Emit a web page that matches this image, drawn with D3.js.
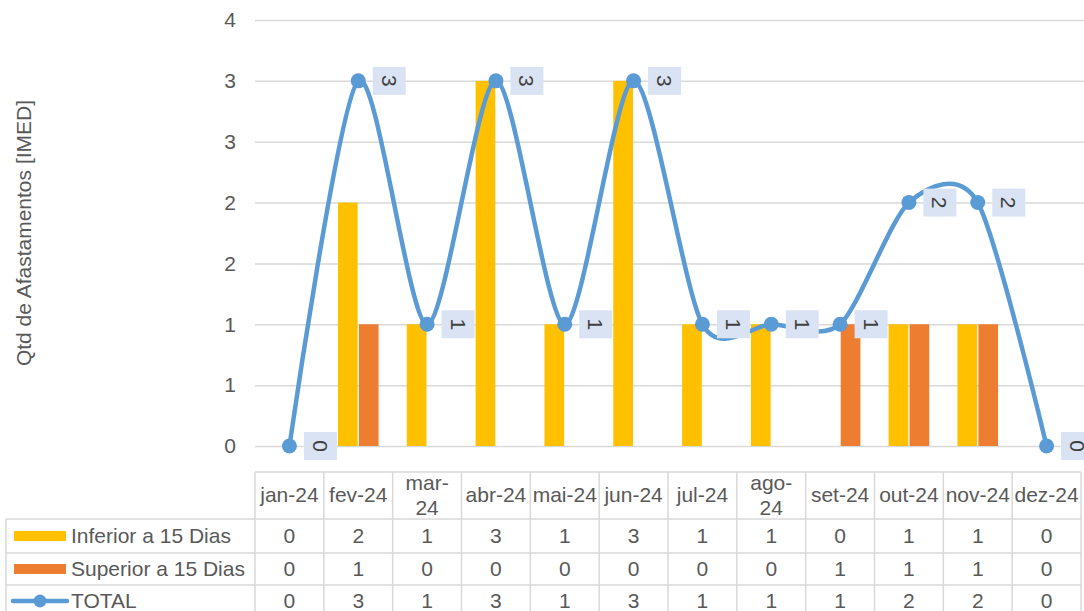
<!DOCTYPE html>
<html>
<head>
<meta charset="utf-8">
<script src="https://cdn.jsdelivr.net/npm/d3@7"></script>
<style>
  body { margin: 0; background: #fff; }
  text { font-family: "Liberation Sans", Arial, sans-serif; }
</style>
</head>
<body>
<div id="chart-area"></div>
<script>
// DATA
const categories = ["jan-24", "fev-24", "mar-24", "abr-24", "mai-24", "jun-24",
                    "jul-24", "ago-24", "set-24", "out-24", "nov-24", "dez-24"];
const inferior = [0, 2, 1, 3, 1, 3, 1, 1, 0, 1, 1, 0];
const superior = [0, 1, 0, 0, 0, 0, 0, 0, 1, 1, 1, 0];
const total    = [0, 3, 1, 3, 1, 3, 1, 1, 1, 2, 2, 0];
const seriesNames = ["Inferior a 15 Dias", "Superior a 15 Dias", "TOTAL"];
const yTicks = [0, 0.5, 1, 1.5, 2, 2.5, 3, 3.5];
const yTickLabels = ["0", "1", "1", "2", "2", "3", "3", "4"];

const W = 1084, H = 611;
const plot = { left: 255, right: 1081, top: 20, bottom: 446 };
const fontSize = 21;
const textColor = "#595959";
const gridColor = "#d9d9d9";
const colors = { inf: "#ffc000", sup: "#ed7d31", tot: "#5b9bd5" };

var svg = d3.select("#chart-area").append("svg")
    .attr("width", W)
    .attr("height", H)
    .style("font-size", fontSize + "px");

// Scales
var x = d3.scaleBand().domain(categories).range([plot.left, plot.right]).padding(0);
var y = d3.scaleLinear().domain([0, 3.5]).range([plot.bottom, plot.top]);
var half = x.bandwidth() * 0.295;
var xs = d3.scaleBand().domain(["inf", "sup"]).range([-half, half]).paddingInner(0.06);

// Y axis + gridlines
var yAxis = svg.append("g")
    .attr("transform", "translate(" + plot.left + ",0)")
    .call(d3.axisLeft(y)
        .tickValues(yTicks)
        .tickFormat((d, i) => yTickLabels[i])
        .tickSize(-(W - plot.left))
        .tickPadding(19));
yAxis.select(".domain").remove();
yAxis.selectAll(".tick line").attr("stroke", gridColor).attr("stroke-width", 1.5);
yAxis.selectAll(".tick text")
    .attr("fill", textColor)
    .style("font-size", fontSize + "px")
    .style("font-family", "'Liberation Sans', Arial, sans-serif");

// Y axis title
svg.append("text")
    .attr("transform", "translate(31,233) rotate(-90)")
    .attr("text-anchor", "middle")
    .attr("fill", textColor)
    .text("Qtd de Afastamentos [IMED]");

// Bars
var barData = [];
categories.forEach((c, i) => {
    barData.push({ cat: c, key: "inf", v: inferior[i] });
    barData.push({ cat: c, key: "sup", v: superior[i] });
});
svg.append("g").selectAll("rect")
    .data(barData.filter(d => d.v > 0))
    .enter().append("rect")
    .attr("x", d => x(d.cat) + x.bandwidth() / 2 + xs(d.key))
    .attr("width", xs.bandwidth())
    .attr("y", d => y(d.v))
    .attr("height", d => y(0) - y(d.v))
    .attr("fill", d => colors[d.key]);

// TOTAL line (smoothed)
var pts = categories.map((c, i) => ({ cat: c, v: total[i] }));
var line = d3.line()
    .x(d => x(d.cat) + x.bandwidth() / 2)
    .y(d => y(d.v))
    .curve(d3.curveCardinal.tension(0.2));
svg.append("path")
    .datum(pts)
    .attr("fill", "none")
    .attr("stroke", colors.tot)
    .attr("stroke-width", 4.5)
    .attr("stroke-linecap", "round")
    .attr("d", line);
svg.append("g").selectAll("circle")
    .data(pts)
    .enter().append("circle")
    .attr("cx", d => x(d.cat) + x.bandwidth() / 2)
    .attr("cy", d => y(d.v))
    .attr("r", 7.5)
    .attr("fill", colors.tot);

// Data labels
var lbl = svg.append("g").selectAll("g")
    .data(pts)
    .enter().append("g")
    .attr("transform", d => "translate(" + (x(d.cat) + x.bandwidth() / 2 + 31) + "," + y(d.v) + ")");
lbl.append("rect")
    .attr("x", -16.5).attr("y", -14)
    .attr("width", 33).attr("height", 28)
    .attr("fill", "#dae3f3");
lbl.append("text")
    .attr("transform", "rotate(90)")
    .attr("text-anchor", "middle")
    .attr("dy", "0.36em")
    .attr("fill", "#404040")
    .text(d => d.v);

// ===== Data table =====
var rows = { headTop: 472, r0: 519, r1: 553, r2: 585, bottom: 618 };
var rowTops = [rows.r0, rows.r1, rows.r2];
var rowBottoms = [rows.r1, rows.r2, rows.bottom];
var tbl = svg.append("g")
    .attr("stroke", gridColor)
    .attr("stroke-width", 1.5);
tbl.append("line").attr("x1", plot.left).attr("x2", plot.right).attr("y1", rows.headTop).attr("y2", rows.headTop);
rowTops.forEach(t => {
    tbl.append("line").attr("x1", 6).attr("x2", plot.right).attr("y1", t).attr("y2", t);
});
tbl.append("line").attr("x1", 6).attr("x2", 6).attr("y1", rows.r0).attr("y2", rows.bottom);
categories.forEach(c => {
    tbl.append("line").attr("x1", x(c)).attr("x2", x(c)).attr("y1", rows.headTop).attr("y2", rows.bottom);
});
tbl.append("line").attr("x1", plot.right).attr("x2", plot.right).attr("y1", rows.headTop).attr("y2", rows.bottom);

// Header labels (wrap on "-" if too wide)
var head = svg.append("g").attr("fill", textColor).attr("text-anchor", "middle");
categories.forEach(c => {
    var cx = x(c) + x.bandwidth() / 2;
    var t = head.append("text").attr("x", cx).attr("y", 495).attr("dy", "0.35em").text(c);
    if (t.node().getComputedTextLength() > x.bandwidth() - 4) {
        var parts = c.split("-");
        t.text(null);
        t.append("tspan").attr("x", cx).attr("y", 483).attr("dy", "0.35em").text(parts[0] + "-");
        t.append("tspan").attr("x", cx).attr("y", 508).attr("dy", "0.35em").text(parts[1]);
    }
});

// Row values
var rowValues = [inferior, superior, total];
rowValues.forEach((vals, r) => {
    var cy = (rowTops[r] + rowBottoms[r]) / 2;
    if (r === 2) cy = rows.r2 + 16;
    svg.append("g").selectAll("text")
        .data(vals)
        .enter().append("text")
        .attr("x", (d, i) => x(categories[i]) + x.bandwidth() / 2)
        .attr("y", cy)
        .attr("dy", "0.35em")
        .attr("text-anchor", "middle")
        .attr("fill", textColor)
        .text(d => d);
});

// Legend keys + names
seriesNames.forEach((name, r) => {
    var cy = (rowTops[r] + rowBottoms[r]) / 2;
    if (r === 2) cy = rows.r2 + 16;
    if (r < 2) {
        svg.append("rect")
            .attr("x", 14).attr("y", cy - 5)
            .attr("width", 52).attr("height", 10)
            .attr("fill", r === 0 ? colors.inf : colors.sup);
    } else {
        svg.append("line")
            .attr("x1", 13).attr("x2", 67).attr("y1", cy).attr("y2", cy)
            .attr("stroke", colors.tot).attr("stroke-width", 4.5)
            .attr("stroke-linecap", "round");
        svg.append("circle").attr("cx", 40).attr("cy", cy).attr("r", 6.5).attr("fill", colors.tot);
    }
    svg.append("text")
        .attr("x", 71).attr("y", cy).attr("dy", "0.35em")
        .attr("fill", textColor)
        .text(name);
});
</script>
</body>
</html>
